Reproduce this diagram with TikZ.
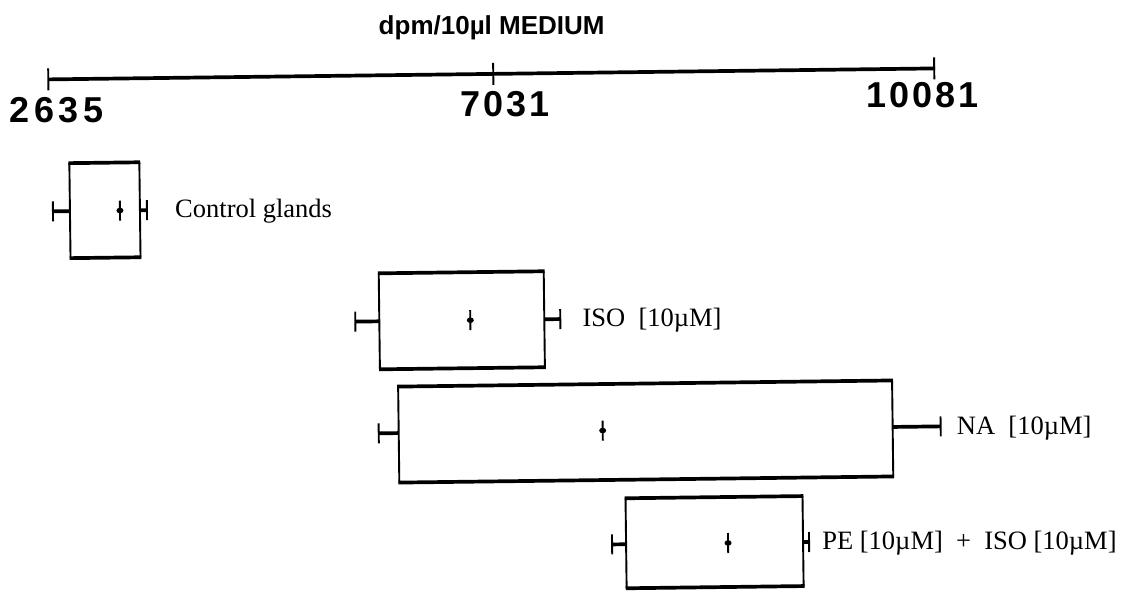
\documentclass[tikz,border=0pt]{standalone}
\usepackage{fontspec}
\setmainfont{Liberation Serif}
\newfontfamily\axfont{Liberation Sans}
\tikzset{
  thinedge/.style={line width=1.9pt},
  thickedge/.style={line width=3.7pt},
  lbl/.style={font=\fontsize{26.5}{30}\selectfont, inner sep=0pt, anchor=base west},
  numlbl/.style={font=\axfont\bfseries\fontsize{36}{40}\selectfont, inner sep=0pt},
  ttl/.style={font=\axfont\bfseries\fontsize{26}{30}\selectfont, inner sep=0pt}
}
\newcommand{\bxplot}[8]{%
  \draw[thinedge] (#2,#6) -- (#2,#7);
  \draw[thinedge] (#4,#6) -- (#4,#7);
  \draw[thickedge] (#2-0.9,#6) -- (#4+0.9,#6);
  \draw[thickedge] (#2-0.9,#7) -- (#4+0.9,#7);
  \draw[thickedge] (#1,#8) -- (#2,#8);
  \draw[thickedge] (#4,#8) -- (#5,#8);
  \draw[thinedge] (#1,#8-10) -- (#1,#8+10);
  \draw[thinedge] (#5,#8-10) -- (#5,#8+10);
  \draw[thinedge] (#3,#8-10) -- (#3,#8+10);
  \fill (#3,#8) ellipse (3.5 and 2.8);
}
\newcommand{\dsp}{\kern3pt}
\newcommand{\dspw}{\kern4.5pt}
\begin{document}
\begin{tikzpicture}[x=1pt,y=-1pt]
\useasboundingbox (0,0) rectangle (1133,591);
\begin{scope}[rotate around={0.71:(566,295)}]
  % axis
  \coordinate (a0) at (51,73);
  \coordinate (a1) at (496,73);
  \coordinate (a2) at (937,73);
  \draw[thickedge] (a0) -- (938,73);
  \draw[thinedge] (51,62) -- (51,84);
  \draw[thinedge] (496,62) -- (496,84);
  \draw[thinedge] (937,62) -- (937,84);
  \node[ttl] (title) at (495,27) {dpm/10µl MEDIUM};
  \node[numlbl] (n0) at (59,104) {2\dspw6\dspw3\dspw5};
  \node[numlbl] (n1) at (507,103.5) {7\dsp0\dsp3\dsp1};
  \node[numlbl] (n2) at (925,99.5) {1\dsp0\dsp0\dsp8\dsp1};
  % box plots
  \bxplot{54}{71}{121}{141}{148}{157}{252}{205}
  \node[lbl] (ctl) at (176,213) {Control glands};
  \bxplot{355}{379}{470}{544}{560}{271}{367}{319}
  \node[lbl] (iso) at (582,327) {ISO \ [10µM]};
  \bxplot{377}{397}{601}{891}{939}{384.5}{480.5}{431}
  \node[lbl] (na) at (955,439) {NA \ [10µM]};
  \bxplot{609}{623}{725}{800}{806}{499}{589}{545}
  \node[lbl] (pe) at (819,553) {PE [10µM] \ + \ ISO [10µM]};
\end{scope}
\end{tikzpicture}
\end{document}
